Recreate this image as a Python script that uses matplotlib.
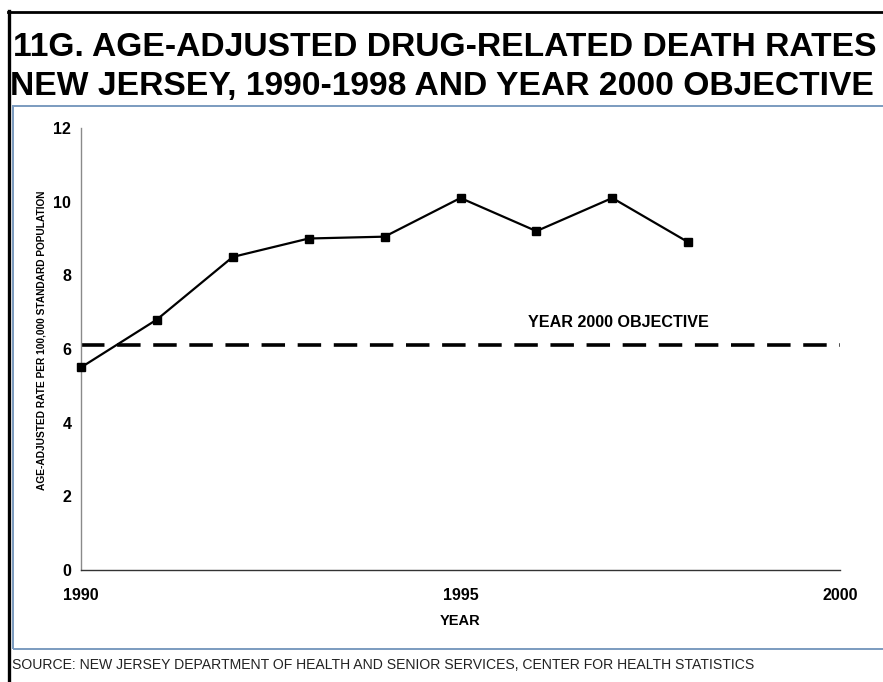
import matplotlib
matplotlib.use("Agg")
import matplotlib.pyplot as plt
from matplotlib.lines import Line2D
from matplotlib.patches import Rectangle

# Age-adjusted drug-related death rates, New Jersey
years = [1990, 1991, 1992, 1993, 1994, 1995, 1996, 1997, 1998]
rates = [5.5, 6.8, 8.5, 9.0, 9.05, 10.1, 9.2, 10.1, 8.9]
objective = 6.1
x_ticks = [1990, 1995, 2000]
y_ticks = [0, 2, 4, 6, 8, 10, 12]

title_lines = ["11G. AGE-ADJUSTED DRUG-RELATED DEATH RATES",
               "NEW JERSEY, 1990-1998 AND YEAR 2000 OBJECTIVE"]
y_label = "AGE-ADJUSTED RATE PER 100,000 STANDARD POPULATION"
x_label = "YEAR"
objective_label = "YEAR 2000 OBJECTIVE"
source = ("SOURCE: NEW JERSEY DEPARTMENT OF HEALTH AND SENIOR SERVICES, "
          "CENTER FOR HEALTH STATISTICS")

plt.rcParams["font.family"] = ["Liberation Sans", "DejaVu Sans"]

W, H = 883, 682
fig = plt.figure(figsize=(W / 100, H / 100), dpi=100)


def fx(px):
    return px / W


def fy(py):
    return 1 - py / H


# page frame: black top and left rules, blue-grey panel around the chart
fig.add_artist(Line2D([fx(8), fx(883)], [fy(11.5), fy(11.5)], color="black", lw=2.0))
fig.add_artist(Line2D([fx(8.5), fx(8.5)], [fy(11), fy(682)], color="black", lw=2.4))
fig.add_artist(Rectangle((fx(13), fy(649)), fx(900) - fx(13), fy(106) - fy(649),
                         fill=False, edgecolor="#7b9bbf", lw=1.4))

# title
fig.text(fx(445), fy(48), title_lines[0], ha="center", va="center",
         fontsize=24.2, fontweight="bold", color="black")
fig.text(fx(442), fy(86), title_lines[1], ha="center", va="center",
         fontsize=24.2, fontweight="bold", color="black")

# plotting area
ax = fig.add_axes([fx(81), fy(570), fx(840) - fx(81), fy(128) - fy(570)])
ax.set_xlim(1990, 2000)
ax.set_ylim(0, 12)

ax.axhline(objective, color="black", lw=2.6, dashes=(6.5, 3.5))
ax.plot(years, rates, color="black", lw=1.6, marker="s", markersize=5.5,
        markerfacecolor="black", markeredgecolor="black", clip_on=False,
        zorder=3)

ax.text(1997.08, objective + 0.62, objective_label, ha="center", va="center",
        fontsize=11.6, fontweight="bold")

for side in ("top", "right"):
    ax.spines[side].set_visible(False)
ax.spines["left"].set_color("#8a8a8a")
ax.spines["left"].set_linewidth(1.0)
ax.spines["bottom"].set_color("#333333")
ax.spines["bottom"].set_linewidth(1.0)

ax.set_xticks(x_ticks)
ax.set_xticklabels([str(v) for v in x_ticks])
ax.set_yticks(y_ticks)
ax.set_yticklabels([str(v) for v in y_ticks])
ax.tick_params(axis="both", length=0, labelsize=11.5)
ax.tick_params(axis="y", pad=7)
ax.tick_params(axis="x", pad=13)
for lab in ax.get_xticklabels() + ax.get_yticklabels():
    lab.set_fontweight("bold")

ax.set_xlabel(x_label, fontsize=10.5, fontweight="bold", labelpad=8)
fig.text(fx(42), fy(340), y_label, rotation=90, ha="center", va="center",
         fontsize=7.3, fontweight="bold")

fig.text(fx(12), fy(665), source, ha="left", va="center", fontsize=10.1,
         color="#222222")

fig.savefig("out.png", dpi=100)
